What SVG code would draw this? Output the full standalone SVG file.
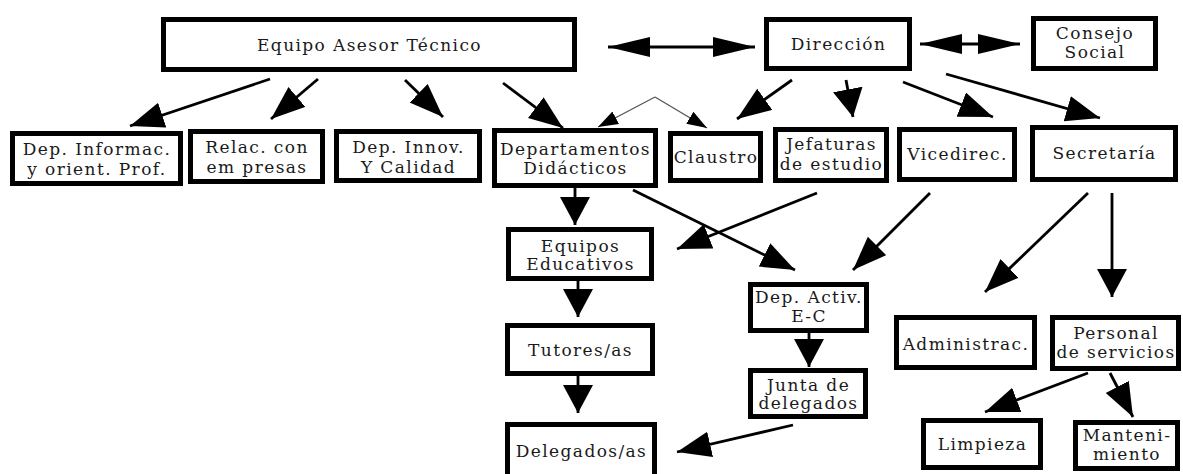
<svg xmlns="http://www.w3.org/2000/svg" width="1183" height="474" viewBox="0 0 1183 474">
<style>
.box{fill:#fff;stroke:#000;stroke-width:5}
.t{font-family:"DejaVu Serif","Liberation Serif",serif;font-size:17px;letter-spacing:1.4px;fill:#1a1a1a;text-anchor:middle}
.a{stroke:#000;stroke-width:2.8;fill:none;marker-end:url(#h)}
.v{stroke:#000;stroke-width:2.8;fill:none;marker-end:url(#hv)}
.d{stroke:#000;stroke-width:2.8;fill:none;marker-start:url(#hh);marker-end:url(#hh)}
.th{stroke:#555;stroke-width:1.3;fill:none;marker-end:url(#hs)}
</style>
<defs>
<marker id="h" markerUnits="userSpaceOnUse" markerWidth="36" markerHeight="28" refX="34" refY="13" orient="auto"><path d="M0,0 L34,13 L0,26 z" fill="#000"/></marker>
<marker id="hv" markerUnits="userSpaceOnUse" markerWidth="30" markerHeight="32" refX="28" refY="15" orient="auto"><path d="M0,0 L28,15 L0,30 z" fill="#000"/></marker>
<marker id="hh" markerUnits="userSpaceOnUse" markerWidth="44" markerHeight="22" refX="42" refY="10" orient="auto-start-reverse"><path d="M0,0 L42,10 L0,20 z" fill="#000"/></marker>
<marker id="hs" markerUnits="userSpaceOnUse" markerWidth="22" markerHeight="16" refX="20" refY="7" orient="auto"><path d="M0,0 L20,7 L0,14 z" fill="#000"/></marker>
</defs>
<rect width="1183" height="474" fill="#fff"/>
<g id="connectors">
<line class="a" x1="270" y1="79" x2="130" y2="126"/>
<line class="a" x1="318" y1="79" x2="271" y2="119"/>
<line class="a" x1="405" y1="80" x2="443" y2="117"/>
<line class="a" x1="503" y1="83" x2="563" y2="128"/>
<line class="th" x1="655" y1="97" x2="598" y2="127"/>
<line class="th" x1="655" y1="97" x2="707" y2="128"/>
<line class="a" x1="792" y1="80" x2="737" y2="119"/>
<line class="v" x1="846" y1="80" x2="853" y2="117"/>
<line class="a" x1="903" y1="82" x2="993" y2="117"/>
<line class="a" x1="946" y1="74" x2="1100" y2="118"/>
<line class="v" x1="575" y1="188" x2="575" y2="225"/>
<line class="a" x1="633" y1="190" x2="795" y2="270"/>
<line class="a" x1="817" y1="193" x2="677" y2="249"/>
<line class="a" x1="930" y1="193" x2="853" y2="270"/>
<line class="a" x1="1088" y1="193" x2="985" y2="292"/>
<line class="v" x1="1112" y1="193" x2="1112" y2="297"/>
<line class="v" x1="578" y1="281" x2="578" y2="317"/>
<line class="v" x1="578" y1="376" x2="578" y2="413"/>
<line class="v" x1="809" y1="333" x2="809" y2="367"/>
<line class="a" x1="793" y1="425" x2="677" y2="452"/>
<line class="a" x1="1088" y1="373" x2="985" y2="412"/>
<line class="a" x1="1110" y1="373" x2="1133" y2="417"/>
<line class="d" x1="608" y1="47" x2="755" y2="47"/>
<line class="d" x1="920" y1="44" x2="1020" y2="44"/>
</g>
<g id="equipo"><rect class="box" x="163.5" y="19.5" width="411" height="50"/><text class="t" x="369.5" y="51">Equipo Asesor Técnico</text></g>
<g id="direccion"><rect class="box" x="766.5" y="19.5" width="143" height="49"/><text class="t" x="838.5" y="50">Dirección</text></g>
<g id="consejo"><rect class="box" x="1033.5" y="18.5" width="122" height="50"/><text class="t" x="1095" y="39">Consejo</text><text class="t" x="1095" y="58">Social</text></g>
<g id="informac"><rect class="box" x="12.5" y="133.5" width="168" height="50"/><text class="t" x="97" y="155">Dep. Informac.</text><text class="t" x="97" y="175">y orient. Prof.</text></g>
<g id="relac"><rect class="box" x="190.5" y="131.5" width="132" height="50"/><text class="t" x="257" y="153">Relac. con</text><text class="t" x="257" y="173">em presas</text></g>
<g id="innov"><rect class="box" x="336.5" y="131.5" width="143" height="49"/><text class="t" x="408.5" y="153">Dep. Innov.</text><text class="t" x="408.5" y="173">Y Calidad</text></g>
<g id="departamentos"><rect class="box" x="494.5" y="130.5" width="161" height="55"/><text class="t" x="575.5" y="155">Departamentos</text><text class="t" x="575.5" y="174">Didácticos</text></g>
<g id="claustro"><rect class="box" x="670.5" y="133.5" width="90" height="47"/><text class="t" x="716" y="163">Claustro</text></g>
<g id="jefaturas"><rect class="box" x="775.5" y="129.5" width="111" height="51"/><text class="t" x="831.5" y="150">Jefaturas</text><text class="t" x="831.5" y="170">de estudio</text></g>
<g id="vicedirec"><rect class="box" x="899.5" y="129.5" width="115" height="50"/><text class="t" x="957.5" y="160">Vicedirec.</text></g>
<g id="secretaria"><rect class="box" x="1032.5" y="127.5" width="143" height="52"/><text class="t" x="1104.5" y="159">Secretaría</text></g>
<g id="equipos-educativos"><rect class="box" x="508.5" y="229.5" width="143" height="49"/><text class="t" x="580.5" y="252">Equipos</text><text class="t" x="580.5" y="270">Educativos</text></g>
<g id="dep-activ"><rect class="box" x="750.5" y="284.5" width="116" height="46"/><text class="t" x="809" y="303">Dep. Activ.</text><text class="t" x="809" y="322">E-C</text></g>
<g id="tutores"><rect class="box" x="507.5" y="325.5" width="145" height="48"/><text class="t" x="580.5" y="356">Tutores/as</text></g>
<g id="junta"><rect class="box" x="750.5" y="370.5" width="115" height="46"/><text class="t" x="808.5" y="391">Junta de</text><text class="t" x="808.5" y="409">delegados</text></g>
<g id="delegados"><rect class="box" x="507.5" y="424.5" width="147" height="60"/><text class="t" x="581.5" y="457">Delegados/as</text></g>
<g id="administrac"><rect class="box" x="896.5" y="317.5" width="138" height="50"/><text class="t" x="966" y="350">Administrac.</text></g>
<g id="personal"><rect class="box" x="1052.5" y="317.5" width="126" height="51"/><text class="t" x="1116" y="339">Personal</text><text class="t" x="1116" y="358">de servicios</text></g>
<g id="limpieza"><rect class="box" x="923.5" y="420.5" width="117" height="47"/><text class="t" x="982.5" y="450">Limpieza</text></g>
<g id="mantenimiento"><rect class="box" x="1075.5" y="422.5" width="102" height="46"/><text class="t" x="1127" y="441">Manteni-</text><text class="t" x="1127" y="460">miento</text></g>
</svg>
